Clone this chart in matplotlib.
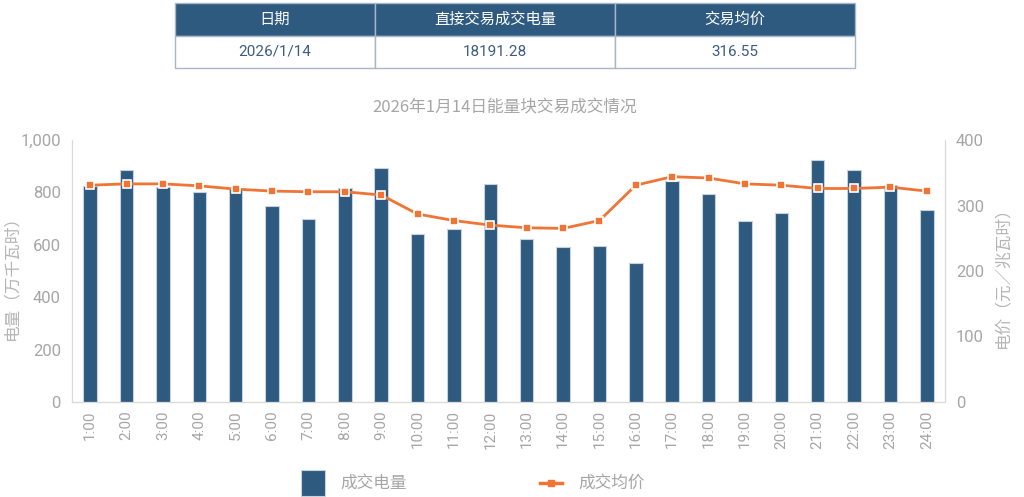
import matplotlib.pyplot as plt
from matplotlib.lines import Line2D
from matplotlib.patches import Rectangle
from matplotlib.ticker import FuncFormatter

# 数据
hours = [f'{h}:00' for h in range(1, 25)]
volume = [825, 886, 819, 802, 812, 748, 697, 818, 893, 641, 659, 833,
          624, 590, 596, 530, 842, 793, 691, 721, 925, 885, 827, 732]
price = [331, 333, 333, 330, 325, 322, 321, 321, 316, 287, 277, 270,
         266, 265, 277, 331, 344, 342, 333, 331, 326, 326, 328, 322]

table_header = ['日期', '直接交易成交电量', '交易均价']
table_row = ['2026/1/14', '18191.28', '316.55']
title = '2026年1月14日能量块交易成交情况'
legend_labels = ['成交电量', '成交均价']

BLUE = '#2f5a80'
ORANGE = '#f07535'
GRAY = '#a6a6a6'
LGRAY = '#b5b5b5'
CJK = ['Noto Sans CJK SC', 'DejaVu Sans']
NUM = ['Roboto', 'DejaVu Sans']

plt.rcParams['font.family'] = NUM

W, H = 1024, 497
fig = plt.figure(figsize=(W / 100, H / 100), dpi=100)


def fx(px):
    return px / W


def fy(py):
    return 1 - py / H


# 表格
tax = fig.add_axes([fx(175), fy(68), 680 / W, 65 / H])
tax.axis('off')
tbl = tax.table(cellText=[table_row], colLabels=table_header,
                colWidths=[200, 240, 240], bbox=[0, 0, 1, 1], cellLoc='center')
for (r, c), cell in tbl.get_celld().items():
    cell.set_edgecolor('#a9b6c6')
    cell.set_linewidth(1)
    if r == 0:
        cell.set_facecolor(BLUE)
        cell.get_text().set_color('white')
        cell.get_text().set_fontfamily(CJK)
        cell.get_text().set_fontsize(12)
    else:
        cell.set_facecolor('white')
        cell.get_text().set_color('#3d5c82')
        cell.get_text().set_fontsize(11)

# 主图
ax = fig.add_axes([fx(72), fy(402), 873 / W, 262 / H])
x = range(len(hours))
ax.bar(x, volume, width=0.37, color=BLUE, edgecolor='#c8d2dc', linewidth=0.8, zorder=2)
ax.set_xlim(-0.5, len(hours) - 0.5)
ax.set_ylim(0, 1000)
ax.set_yticks(range(0, 1001, 200))
ax.yaxis.set_major_formatter(FuncFormatter(lambda v, p: f'{int(v):,}'))
ax.set_xticks(list(x))
ax.set_xticklabels(hours, rotation=90)
ax.tick_params(axis='both', length=0, colors=GRAY, labelsize=12)
ax.tick_params(axis='x', labelsize=11, pad=6)
ax.tick_params(axis='y', pad=8)

ax2 = ax.twinx()
ax2.plot(x, price, color=ORANGE, linewidth=2, marker='s', markersize=6,
         markeredgecolor='white', markeredgewidth=1.2, zorder=3)
ax2.set_ylim(0, 400)
ax2.set_yticks(range(0, 401, 100))
ax2.tick_params(axis='y', length=0, colors=GRAY, labelsize=12, pad=8)

for a in (ax, ax2):
    a.spines['top'].set_visible(False)
    for s in ('left', 'right', 'bottom'):
        a.spines[s].set_color('#d9d9d9')

# 轴标题
fig.text(fx(12), fy(273), '电量（万千瓦时）', rotation=90, ha='center', va='center',
         fontfamily=CJK, color=LGRAY, fontsize=12)
fig.text(fx(1003), fy(273), '电价（元／兆瓦时）', rotation=90, ha='center', va='center',
         fontfamily=CJK, color=LGRAY, fontsize=12)

fig.text(fx(505), fy(107), title, ha='center', va='center',
         fontfamily=CJK, color=GRAY, fontsize=12)

# 图例
fig.add_artist(Rectangle((fx(301), fy(496)), 24 / W, 26 / H, transform=fig.transFigure,
                         facecolor=BLUE, edgecolor='#c8d2dc', linewidth=0.8))
fig.text(fx(340), fy(483), legend_labels[0], ha='left', va='center',
         fontfamily=CJK, color=GRAY, fontsize=12)
fig.add_artist(Line2D([fx(540), fx(562)], [fy(483), fy(483)], transform=fig.transFigure,
                      color=ORANGE, linewidth=2.5))
fig.add_artist(Line2D([fx(551)], [fy(483)], transform=fig.transFigure, color=ORANGE,
                      marker='s', markersize=5, linestyle='none'))
fig.text(fx(578), fy(483), legend_labels[1], ha='left', va='center',
         fontfamily=CJK, color=GRAY, fontsize=12)

fig.savefig('out.png', dpi=100)
